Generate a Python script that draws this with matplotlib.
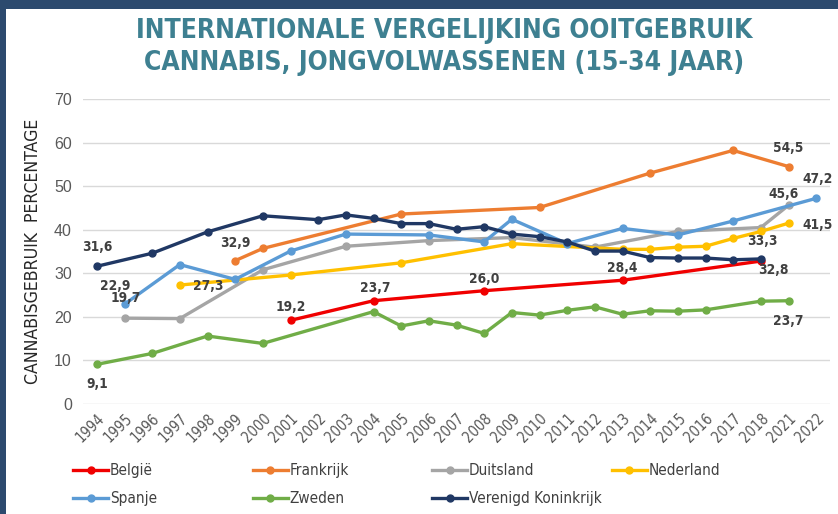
import numpy as np
import matplotlib
matplotlib.use("Agg")
import matplotlib.pyplot as plt
from matplotlib import font_manager
from matplotlib.patches import Rectangle

# ---------------- data ----------------
years = ["1994", "1995", "1996", "1997", "1998", "1999", "2000", "2001", "2002",
         "2003", "2004", "2005", "2006", "2007", "2008", "2009", "2010", "2011",
         "2012", "2013", "2014", "2015", "2016", "2017", "2018", "2021", "2022"]

belgie_years = ["2001", "2004", "2008", "2013", "2018"]
belgie_vals = [19.2, 23.7, 26.0, 28.4, 32.8]

frankrijk_years = ["1999", "2000", "2005", "2010", "2014", "2017", "2021"]
frankrijk_vals = [32.9, 35.7, 43.6, 45.1, 53.0, 58.2, 54.5]

duitsland_years = ["1995", "1997", "2000", "2003", "2006", "2009", "2012", "2015", "2018", "2021"]
duitsland_vals = [19.7, 19.6, 30.8, 36.2, 37.5, 38.2, 36.0, 39.6, 40.5, 45.6]

nederland_years = ["1997", "2001", "2005", "2009", "2013", "2014", "2015", "2016", "2017", "2018", "2021"]
nederland_vals = [27.3, 29.6, 32.4, 36.8, 35.5, 35.5, 36.0, 36.2, 38.0, 39.6, 41.5]

spanje_years = ["1995", "1997", "1999", "2001", "2003", "2006", "2008", "2009", "2011",
                "2013", "2015", "2017", "2022"]
spanje_vals = [22.9, 32.0, 28.6, 35.1, 39.0, 38.8, 37.2, 42.4, 36.8, 40.3, 38.8, 42.0, 47.2]

zweden_years = ["1994", "1996", "1998", "2000", "2004", "2005", "2006", "2007", "2008", "2009",
                "2010", "2011", "2012", "2013", "2014", "2015", "2016", "2018", "2021"]
zweden_vals = [9.1, 11.6, 15.6, 13.9, 21.2, 17.9, 19.1, 18.1, 16.2, 21.0,
               20.4, 21.5, 22.3, 20.6, 21.4, 21.3, 21.6, 23.6, 23.7]

vk_years = ["1994", "1996", "1998", "2000", "2002", "2003", "2004", "2005", "2006", "2007",
            "2008", "2009", "2010", "2011", "2012", "2013", "2014", "2015", "2016", "2017", "2018"]
vk_vals = [31.6, 34.6, 39.5, 43.2, 42.3, 43.4, 42.6, 41.4, 41.4, 40.1,
           40.7, 39.0, 38.4, 37.2, 35.1, 35.1, 33.6, 33.5, 33.5, 33.1, 33.3]

series_names = ["België", "Frankrijk", "Duitsland", "Nederland", "Spanje", "Zweden", "Verenigd Koninkrijk"]

title = "INTERNATIONALE VERGELIJKING OOITGEBRUIK\nCANNABIS, JONGVOLWASSENEN (15-34 JAAR)"
ylabel = "CANNABISGEBRUIK  PERCENTAGE"

# ---------------- fonts ----------------
def find_condensed(bold):
    for f in font_manager.fontManager.ttflist:
        nm = (f.fname or "").lower()
        st = f.stretch
        cond = ("condensed" in nm or "narrow" in nm or
                (isinstance(st, str) and "condensed" in st) or
                (isinstance(st, (int, float)) and st < 500))
        if not cond or "mono" in nm or "serif" in nm.replace("sans", ""):
            continue
        if "oblique" in nm or "italic" in nm:
            continue
        w = f.weight
        isbold = (w in ("bold", "heavy", "black")) or (isinstance(w, (int, float)) and w >= 600)
        if isbold == bold:
            return font_manager.FontProperties(fname=f.fname)
    return None

fp_reg = find_condensed(False)
fp_bold = find_condensed(True)
FOUND = fp_reg is not None
if fp_reg is None:
    fp_reg = font_manager.FontProperties(family="Liberation Sans")
if fp_bold is None:
    fp_bold = font_manager.FontProperties(family="Liberation Sans", weight="bold")

def fp(base, size):
    p = base.copy()
    p.set_size(size)
    return p

k = 1.0 if FOUND else 0.9

# ---------------- style ----------------
colors = {
    "België": "#F00000",
    "Frankrijk": "#ED7D31",
    "Duitsland": "#A5A5A5",
    "Nederland": "#FFC000",
    "Spanje": "#5B9BD5",
    "Zweden": "#70AD47",
    "Verenigd Koninkrijk": "#203864",
}

W, H = 838, 514
fig = plt.figure(figsize=(W / 100, H / 100), dpi=100)
fig.patch.set_facecolor("white")

border = "#2C4A6E"
fig.patches.append(Rectangle((0, 1 - 9 / H), 1, 9 / H, transform=fig.transFigure,
                             facecolor=border, edgecolor="none", zorder=0))
fig.patches.append(Rectangle((0, 0), 6 / W, 1, transform=fig.transFigure,
                             facecolor=border, edgecolor="none", zorder=0))

ax = fig.add_axes([83 / W, 1 - 404 / H, (830 - 83) / W, (404 - 99) / H])
idx = {y: i for i, y in enumerate(years)}

data = {
    "België": (belgie_years, belgie_vals),
    "Frankrijk": (frankrijk_years, frankrijk_vals),
    "Duitsland": (duitsland_years, duitsland_vals),
    "Nederland": (nederland_years, nederland_vals),
    "Spanje": (spanje_years, spanje_vals),
    "Zweden": (zweden_years, zweden_vals),
    "Verenigd Koninkrijk": (vk_years, vk_vals),
}

handles = {}
for name in series_names:
    ys, vs = data[name]
    xs = [idx[y] for y in ys]
    ln, = ax.plot(xs, vs, color=colors[name], lw=2.4, marker="o", ms=5,
                  solid_joinstyle="round", zorder=3)
    handles[name] = ln

ax.set_xlim(-0.5, len(years) - 0.5)
ax.set_ylim(0, 70)
ax.set_yticks(np.arange(0, 71, 10))
ax.set_xticks(range(len(years)))
ax.set_xticklabels(years, rotation=45, ha="right", rotation_mode="anchor",
                   color="#595959", fontproperties=fp(fp_reg, 10.5 * k))
ax.tick_params(axis="x", length=0, pad=5)
ax.tick_params(axis="y", length=0, pad=8, labelsize=11.5, labelcolor="#595959")
for lab in ax.get_yticklabels():
    lab.set_family("Liberation Sans")
ax.grid(axis="y", color="#D9D9D9", lw=1)
ax.set_axisbelow(True)
for s in ax.spines.values():
    s.set_visible(False)

ax.set_ylabel(ylabel, fontproperties=fp(fp_reg, 12.7 * k), color="#262626", labelpad=9)

labels = [
    ("Verenigd Koninkrijk", "1994", 0, 19),
    ("Zweden", "1994", 0, -20),
    ("Spanje", "1995", -9, 18),
    ("Duitsland", "1995", 1, 20),
    ("Nederland", "1997", 28, -1),
    ("Frankrijk", "1999", 0, 18),
    ("België", "2001", 0, 13),
    ("België", "2004", 2, 13),
    ("België", "2008", 0, 12),
    ("België", "2013", 0, 12),
    ("Frankrijk", "2021", 0, 19),
    ("Spanje", "2022", 1, 19),
    ("Duitsland", "2021", -5, 11),
    ("Nederland", "2021", 29, -2),
    ("Verenigd Koninkrijk", "2018", 2, 18),
    ("België", "2018", 13, -9),
    ("Zweden", "2021", 0, -20),
]
for name, yr, dx, dy in labels:
    ys, vs = data[name]
    v = vs[ys.index(yr)]
    ax.annotate(f"{v:.1f}".replace(".", ","), (idx[yr], v), xytext=(dx, dy),
                textcoords="offset pixels", ha="center", va="center",
                color="#404040", fontproperties=fp(fp_bold, 9.8 * k), zorder=5)

fig.text(444 / W, 1 - 47 / H, title, ha="center", va="center",
         color="#3E8091", fontproperties=fp(fp_bold, 19 * k), linespacing=1.3)

cols = [["België", "Spanje"], ["Frankrijk", "Zweden"],
        ["Duitsland", "Verenigd Koninkrijk"], ["Nederland"]]
for c, col in enumerate(cols):
    x0 = (73 + 179.5 * c) / W
    leg = fig.legend([handles[n] for n in col], col, loc="upper left",
                     bbox_to_anchor=(x0, 1 - 463 / H), frameon=False,
                     handlelength=2.3, handletextpad=0.1, labelspacing=0.85,
                     borderaxespad=0, borderpad=0,
                     prop=fp(fp_reg, 11 * k))
    for t in leg.get_texts():
        t.set_color("#404040")

fig.savefig("out.png", dpi=100)
